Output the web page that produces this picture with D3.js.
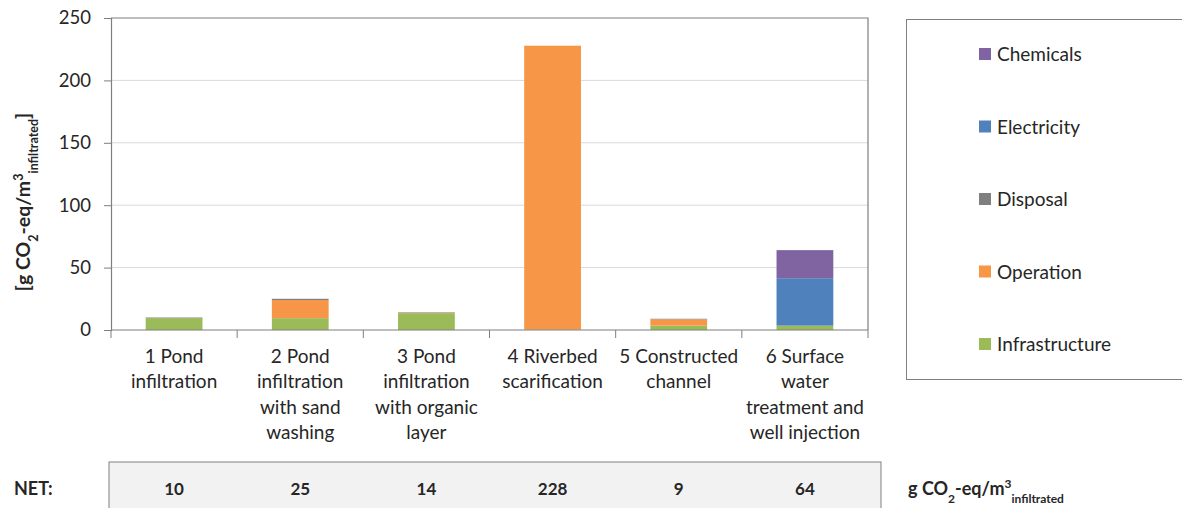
<!DOCTYPE html>
<html><head><meta charset="utf-8">
<script src="https://cdn.jsdelivr.net/npm/d3@7"></script>
<style>
body{margin:0;background:#fff;}
text{font-family:Lato,"Open Sans",sans-serif;fill:#262626;}
</style></head>
<body><svg id="c" width="1182" height="508"></svg>
<script>
const categories = [
  ["1 Pond","infiltration"],
  ["2 Pond","infiltration","with sand","washing"],
  ["3 Pond","infiltration","with organic","layer"],
  ["4 Riverbed","scarification"],
  ["5 Constructed","channel"],
  ["6 Surface","water","treatment and","well injection"]
];
const seriesNames = ["Infrastructure","Operation","Disposal","Electricity","Chemicals"];
const infrastructure = [9.5, 9.5, 13.5, 0.3, 3.5, 3.5];
const operation      = [0,   14.5, 0.3, 227.5, 5,  0];
const disposal       = [0.5, 1,   0.4, 0,   0.5, 0];
const electricity    = [0,   0,   0,   0,   0,   38];
const chemicals      = [0,   0,   0,   0,   0,   22.5];
const netValues = ["10","25","14","228","9","64"];
const yTicks = [0,50,100,150,200,250];
const colors = {Infrastructure:"#9BBB59",Operation:"#F79646",Disposal:"#7F7F7F",Electricity:"#4F81BD",Chemicals:"#8064A2"};

const svg = d3.select("#c");
const L=111, R=868, T=18, B=330;
const x = d3.scaleBand().domain(d3.range(6)).range([L,R]).paddingInner(0).paddingOuter(0);
const y = d3.scaleLinear().domain([0,250]).range([B,T]);

// gridlines
svg.append("g").selectAll("line").data(yTicks.filter(d=>d>0&&d<250)).join("line")
  .attr("x1",L).attr("x2",R).attr("y1",d=>y(d)).attr("y2",d=>y(d))
  .attr("stroke","#d9d9d9").attr("stroke-width",1);

// bars
const rows = d3.range(6).map(i=>({i, Infrastructure:infrastructure[i], Operation:operation[i], Disposal:disposal[i], Electricity:electricity[i], Chemicals:chemicals[i]}));
const stack = d3.stack().keys(seriesNames)(rows);
const bw = x.bandwidth()*0.45;
svg.append("g").selectAll("g").data(stack).join("g").attr("fill",d=>colors[d.key])
  .selectAll("rect").data(d=>d).join("rect")
  .attr("x",d=>x(d.data.i)+(x.bandwidth()-bw)/2).attr("width",bw)
  .attr("y",d=>y(d[1])).attr("height",d=>Math.max(0,y(d[0])-y(d[1])));

// frame (top, right)
svg.append("path").attr("d",`M${L},${T}H${R}V${B}`).attr("fill","none").attr("stroke","#7f7f7f").attr("stroke-width",1.2);

// y axis
const ya = svg.append("g").attr("transform",`translate(${L},0)`)
  .call(d3.axisLeft(y).tickValues(yTicks).tickSize(7).tickPadding(13));
ya.select(".domain").attr("stroke","#7f7f7f").attr("stroke-width",1.2);
ya.selectAll(".tick line").attr("stroke","#7f7f7f");
ya.selectAll("text").style("font-size","18.5px").style("font-family","Lato,sans-serif").attr("fill","#262626");

// x axis
svg.append("line").attr("x1",L).attr("x2",R).attr("y1",B).attr("y2",B).attr("stroke","#7f7f7f").attr("stroke-width",1.2);
svg.append("g").selectAll("line").data(d3.range(7)).join("line")
  .attr("x1",d=>L+d*x.step()).attr("x2",d=>L+d*x.step()).attr("y1",B).attr("y2",B+8)
  .attr("stroke","#7f7f7f");
const cl = svg.append("g").selectAll("text").data(categories).join("text")
  .attr("x",(d,i)=>x(i)+x.bandwidth()/2).attr("y",363)
  .attr("text-anchor","middle").style("font-size","19px");
cl.selectAll("tspan").data(d=>d).join("tspan")
  .attr("x",function(){return this.parentNode.getAttribute("x");})
  .attr("dy",(d,j)=>j===0?0:"25.3px").text(d=>d);

// y title
const yt = svg.append("text").attr("transform","translate(30,202) rotate(-90)")
  .attr("text-anchor","middle").style("font-size","19.5px").style("font-weight","bold");
yt.append("tspan").text("[g CO");
yt.append("tspan").attr("baseline-shift","sub").style("font-size","12.5px").text("2");
yt.append("tspan").text("-eq/m");
yt.append("tspan").attr("baseline-shift","super").style("font-size","12.5px").text("3");
yt.append("tspan").attr("baseline-shift","sub").style("font-size","12.5px").text("infiltrated");
yt.append("tspan").text("]");

// legend
svg.append("rect").attr("x",906.5).attr("y",19.5).attr("width",290).attr("height",360)
  .attr("fill","#fff").attr("stroke","#808080");
const legOrder = ["Chemicals","Electricity","Disposal","Operation","Infrastructure"];
const lg = svg.append("g").selectAll("g").data(legOrder).join("g")
  .attr("transform",(d,i)=>`translate(979,${54+i*72.5})`);
lg.append("rect").attr("x",0).attr("y",-6).attr("width",12).attr("height",12).attr("fill",d=>colors[d]);
lg.append("text").attr("x",18).attr("y",7).style("font-size","19px").text(d=>d);

// NET row
svg.append("rect").attr("x",109).attr("y",462).attr("width",772).attr("height",60)
  .attr("fill","#f2f2f2").attr("stroke","#808080");
svg.append("text").attr("x",14).attr("y",495).style("font-size","18px").style("font-weight","bold").text("NET:");
svg.append("g").selectAll("text").data(netValues).join("text")
  .attr("x",(d,i)=>x(i)+x.bandwidth()/2).attr("y",495).attr("text-anchor","middle")
  .style("font-size","17px").style("font-weight","bold").text(d=>d);
const ut = svg.append("text").attr("x",908).attr("y",495).style("font-size","18px").style("font-weight","bold");
ut.append("tspan").text("g CO");
ut.append("tspan").attr("baseline-shift","sub").style("font-size","12px").text("2");
ut.append("tspan").text("-eq/m");
ut.append("tspan").attr("baseline-shift","super").style("font-size","12px").text("3");
ut.append("tspan").attr("baseline-shift","sub").style("font-size","12px").text("infiltrated");
</script></body></html>
